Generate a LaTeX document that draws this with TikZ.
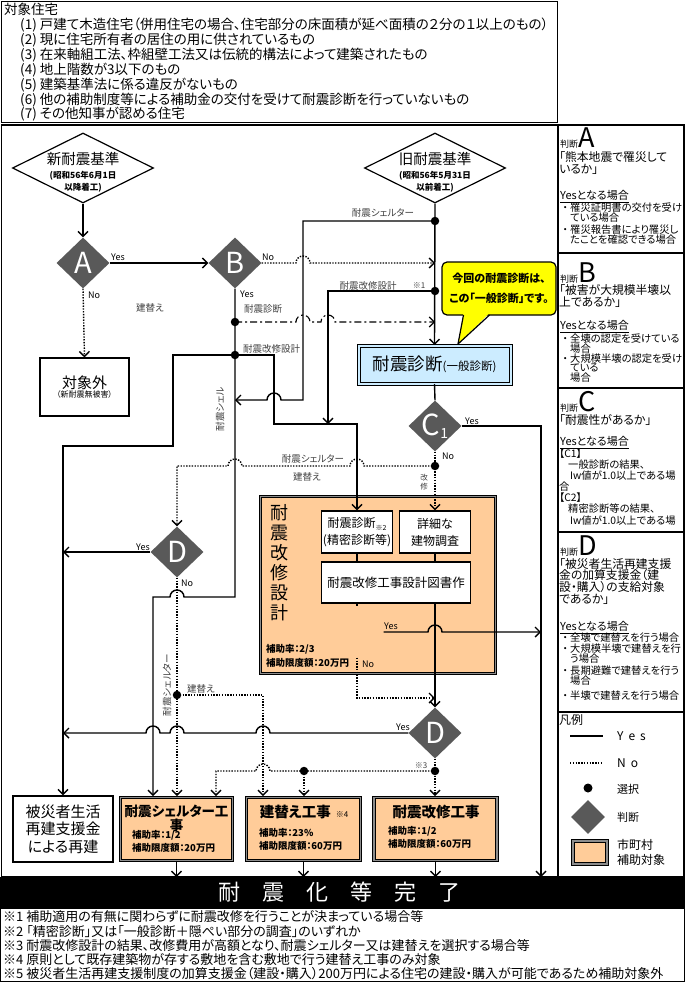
\documentclass[tikz,border=0pt]{standalone}
\usepackage{fontspec}
\setmainfont{Noto Sans CJK JP}[RawFeature=+palt]
\usetikzlibrary{arrows.meta,shapes.geometric}
\newcommand\fsz[2]{\fontsize{#1}{#2}\selectfont}
\newcommand\bulx{\makebox[10pt][c]{・}}
\newcommand\indx{\hspace*{10pt}}
\definecolor{dgray}{HTML}{595959}
\definecolor{peach}{HTML}{FFCC99}
\definecolor{lblue}{HTML}{CCECFF}
\definecolor{lgray}{HTML}{404040}
\definecolor{band}{HTML}{8C8C8C}
\definecolor{cyellow}{HTML}{FFFF00}
\begin{document}
\begin{tikzpicture}[x=1pt,y=-1pt,
  conn/.style={draw=black, line width=1.4pt},
  dots/.style={draw=black, line width=1.4pt, dash pattern=on 1.4pt off 1.4pt},
  dashdot/.style={draw=black, line width=1.1pt, dash pattern=on 7pt off 3pt on 2pt off 3pt},
  arr/.style={-{Straight Barb[length=5pt,width=10pt]}},
  jdot/.style={circle, fill=black, inner sep=0pt, minimum size=8.5pt},
  judge/.style={diamond, fill=dgray, inner sep=0pt, minimum width=53pt, minimum height=51pt},
  jtxt/.style={text=white, inner sep=0pt, font=\fsz{29}{29}},
  lbl/.style={text=lgray, inner sep=0pt, font=\fsz{9.5}{9.5}},
  yn/.style={text=black, inner sep=0pt, font=\fsz{9}{9}},
  wbox/.style={draw=black, line width=1.1pt, fill=white, inner sep=0pt},
  obox/.style={draw=black, line width=0.9pt, double=band, double distance=1.8pt, fill=peach, inner sep=0pt},
  std/.style={diamond, draw=black, line width=1.2pt, fill=white, inner sep=0pt, minimum width=141pt, minimum height=70pt},
  rp/.style={anchor=north west, inner sep=0pt, align=left},
  qt/.style={rp, font=\fsz{11.8}{12}},
  yh/.style={rp, font=\fsz{11}{11}},
  bl/.style={rp, font=\fsz{10.3}{10.5}},
  hd/.style={anchor=base west, inner sep=0pt},
  small/.style={anchor=west, inner sep=0pt, font=\fsz{9.5}{9.5}\bfseries}
]
\useasboundingbox (0,0) rectangle (685,982);
\fill[white] (0,0) rectangle (685,982);

% ---------- frames ----------
\draw[line width=1pt] (1.5,1.5) rectangle (557,122);
\draw[line width=1.2pt] (1.5,125) rectangle (558,877);
\draw[line width=1.2pt] (558,125) rectangle (684,877);
\foreach \yy in {253,388,532,712} \draw[line width=1.2pt] (558,\yy) -- (684,\yy);
\node[fill=black, minimum width=685pt, minimum height=31pt, inner sep=0pt, anchor=north west] (bar) at (0,877) {};
\node[text=white, inner sep=0pt, font=\fsz{22}{22}] (bartxt) at (339,892.5) {耐\hspace{22pt}震\hspace{22pt}化\hspace{22pt}等\hspace{22pt}完\hspace{22pt}了};
\draw[line width=1pt] (0.5,908) rectangle (684.5,981.5);

% ---------- top box ----------
\node[anchor=north west, inner sep=0pt, align=left, font=\fsz{13.5}{14.86}] (target) at (4,3.3) {対象住宅\\
\hspace*{16pt}(1) 戸建て木造住宅（併用住宅の場合、住宅部分の床面積が延べ面積の２分の１以上のもの）\\
\hspace*{16pt}(2) 現に住宅所有者の居住の用に供されているもの\\
\hspace*{16pt}(3) 在来軸組工法、枠組壁工法又は伝統的構法によって建築されたもの\\
\hspace*{16pt}(4) 地上階数が3以下のもの\\
\hspace*{16pt}(5) 建築基準法に係る違反がないもの\\
\hspace*{16pt}(6) 他の補助制度等による補助金の交付を受けて耐震診断を行っていないもの\\
\hspace*{16pt}(7) その他知事が認める住宅};

% ---------- footnotes ----------
\node[anchor=north west, inner sep=0pt, align=left, font=\fsz{13}{14.3}] (notes) at (3,910.5) {※1 補助適用の有無に関わらずに耐震改修を行うことが決まっている場合等\\
※2 「精密診断」又は「一般診断＋隠ぺい部分の調査」のいずれか\\
※3 耐震改修設計の結果、改修費用が高額となり、耐震シェルター又は建替えを選択する場合等\\
※4 原則として既存建築物が存する敷地を含む敷地で行う建替え工事のみ対象\\
※5 被災者生活再建支援制度の加算支援金（建設・購入）200万円による住宅の建設・購入が可能であるため補助対象外};

% ---------- main nodes ----------
\node[std] (newstd) at (83,168) {};
\node[inner sep=0pt, font=\fsz{14.5}{14.5}] (newT1) at (83,159) {新耐震基準};
\node[inner sep=0pt, align=center, font=\fsz{8.5}{12}\bfseries] (newT2) at (83,182) {(昭和56年6月1日\\以降着工)};
\node[std] (oldstd) at (435,168) {};
\node[inner sep=0pt, font=\fsz{14.5}{14.5}] (oldT1) at (435,159) {旧耐震基準};
\node[inner sep=0pt, align=center, font=\fsz{8.5}{12}\bfseries] (oldT2) at (435,182) {(昭和56年5月31日\\以前着工)};

\node[judge] (A) at (83,263) {};   \node[jtxt] (At) at (A.center) {A};
\node[judge] (B) at (235,263) {};  \node[jtxt] (Bt) at (B.center) {B};
\node[judge] (C1) at (435,426) {}; \node[jtxt] (C1t) at (C1.center) {C\raisebox{-3pt}{\fsz{14}{14}1}};
\node[judge] (C2) at (357,632) {}; \node[jtxt] (C2t) at (C2.center) {C\raisebox{-3pt}{\fsz{14}{14}2}};
\node[judge] (Dl) at (177,552) {}; \node[jtxt] (Dlt) at (Dl.center) {D};
\node[judge] (Dr) at (435,733) {}; \node[jtxt] (Drt) at (Dr.center) {D};

\node[wbox, minimum width=89pt, minimum height=58pt, align=center] (gai) at (84.5,387) {\fsz{15}{17}対象外\\[-3pt]\fsz{8}{9}（新耐震無被害）};

\node[draw=black, line width=1pt, double=lblue, double distance=2pt, fill=lblue, inner sep=0pt, minimum width=152pt, minimum height=38pt] (ippan) at (434.5,364.5) {{\fsz{17.5}{17.5}耐震診断}{\fsz{11.5}{11.5}(一般診断)}};

\node[draw=black, line width=1.2pt, fill=cyellow, rounded corners=5pt, minimum width=114pt, minimum height=53pt, inner sep=0pt, align=center, font=\fsz{11}{20}\bfseries] (callout) at (499,288.5) {今回の耐震診断は、\\この「一般診断」です。};
\coordinate (ctip) at (458,344);
\fill[cyellow] (463.5,313) -- (ctip) -- (489.5,313) -- cycle;
\draw[line width=1.2pt, line join=round] (463.5,315) -- (ctip) -- (489.5,315);

\node[obox, minimum width=235pt, minimum height=177pt] (sekkei) at (378,585) {};
\node[inner sep=0pt, align=center, font=\fsz{18}{20}] (sekkeiT) at (279,563) {耐\\震\\改\\修\\設\\計};
\node[small] (sekkeiR) at (266,649) {補助率：2/3};
\node[small] (sekkeiL) at (266,663) {補助限度額：20万円};
\node[wbox, minimum width=71pt, minimum height=42pt, align=center, font=\fsz{12}{17}] (seimitsu) at (357,532) {耐震診断\raisebox{-3pt}{\fsz{7}{7}※2}\\(精密診断等)};
\node[wbox, minimum width=71pt, minimum height=42pt, align=center, font=\fsz{12}{17}] (shosai) at (435,532) {詳細な\\建物調査};
\node[wbox, minimum width=149pt, minimum height=41pt, font=\fsz{12.5}{12.5}] (zusho) at (396,582.5) {耐震改修工事設計図書作};

\node[wbox, minimum width=100pt, minimum height=66pt, align=center, font=\fsz{15}{17.5}] (hisai) at (63,829) {被災者生活\\再建支援金\\による再建};
\node[obox, minimum width=112pt, minimum height=63pt] (shelter) at (176.5,829) {};
\node[anchor=north, inner sep=0pt, align=center, font=\fsz{13.5}{11.5}\bfseries] (shelterT) at (176.5,805) {耐震シェルター工\\事};
\node[small] (shelterR) at (132,835.5) {補助率：1/2};
\node[small] (shelterL) at (132,848) {補助限度額：20万円};
\node[obox, minimum width=114pt, minimum height=63pt] (tatekae) at (303.5,829) {};
\node[inner sep=0pt, font=\fsz{14.5}{14.5}\bfseries] (tatekaeT) at (304,812) {建替え工事\hspace{5pt}{\fsz{8}{8}\mdseries ※4}};
\node[small] (tatekaeR) at (259,833) {補助率：23\%};
\node[small] (tatekaeL) at (259,846) {補助限度額：60万円};
\node[obox, minimum width=123pt, minimum height=63pt] (kaishu) at (435.5,829) {};
\node[inner sep=0pt, font=\fsz{14.5}{14.5}\bfseries] (kaishuT) at (436,812) {耐震改修工事};
\node[small] (kaishuR) at (388,831) {補助率：1/2};
\node[small] (kaishuL) at (388,844) {補助限度額：60万円};

% ---------- junction coordinates ----------
\coordinate (nb) at (435,263);
\coordinate (nd) at (435,322);
\coordinate (bsh) at (235,400);
\coordinate (j1) at (328,424);
\coordinate (lyes) at (63,552);
\coordinate (ryes) at (63,733);
\coordinate (dr1) at (435,698);
\coordinate (rc2) at (541,632);
\coordinate (rbar) at (541,877);
\coordinate (sh1) at (153,796);
\coordinate (sh2) at (177,796);
\coordinate (sh3) at (216,796);
\coordinate (tk1) at (263,796);
\coordinate (tk2) at (304,796);
\coordinate (ks1) at (435,796);

% ---------- connectors ----------
\draw[conn,arr] (newstd.south) -- (A.north);
\draw[conn,arr] (A.east) -- (B.west);
\draw[dots,arr] (A.south) -- (gai.north);
\draw[conn,arr] (oldstd.south) -- (ippan.north);
% shelter from old standard
\draw[conn,arr] (435,221) -- (303,221) -- (303,400) -- (281,400) arc[start angle=0,end angle=180,radius=7pt] -- (bsh);
% B No
\draw[dots,arr] (B.east) -- (296,263) arc[start angle=180,end angle=0,radius=7pt] -- (nb);
% *1 design
\draw[conn,arr] (435,291) -- (328,291) -- (j1);
% diagnosis dash-dot
\draw[dashdot,arr] (235,322) -- (296,322) arc[start angle=180,end angle=0,radius=7pt] -- (321,322) arc[start angle=180,end angle=0,radius=7pt] -- (nd);
% B vertical to shelter work
\draw[conn,arr] (B.south) -- (235,597) -- (184,597) arc[start angle=0,end angle=180,radius=7pt] -- (153,597) -- (sh1);
% design from B
\draw[conn,arr] (235,355) -- (274,355) -- (274,424) -- (357,424) -- (seimitsu.north);
% rebuild from B
\draw[conn,arr] (235,355) -- (173,355) -- (173,446) -- (63,446) -- (hisai.north);
% ippan -> C1
\draw[conn] (ippan.south) -- (C1.north);
% C1 Yes
\draw[conn,arr] (C1.east) -- (541,426) -- (rbar);
% C1 No
\draw[dots,arr] (C1.south) -- (shosai.north);
\draw[dots,arr] (435,466) -- (364,466) arc[start angle=0,end angle=180,radius=7pt] -- (242,466) arc[start angle=0,end angle=180,radius=7pt] -- (177,466) -- (Dl.north);
% Dl
\draw[conn,arr] (Dl.west) -- (lyes);
\draw[dots,arr] (Dl.south) -- (sh2);
\draw[dots,arr] (177,695) -- (263,695) -- (tk1);
% inside design box
\draw[conn] (seimitsu.south) -- (seimitsu.south |- zusho.north);
\draw[conn] (shosai.south) -- (shosai.south |- zusho.north);
\draw[conn] (zusho.south -| C2.north) -- (C2.north);
\draw[conn,arr] (zusho.south -| Dr.north) -- (Dr.north);
% C2
\draw[conn,arr] (C2.east) -- (428,632) arc[start angle=180,end angle=0,radius=7pt] -- (rc2);
\draw[dots,arr] (C2.south) -- (357,698) -- (dr1);
% Dr
\draw[conn,arr] (Dr.west) -- (270,733) arc[start angle=0,end angle=180,radius=7pt] -- (184,733) arc[start angle=0,end angle=180,radius=7pt] -- (160,733) arc[start angle=0,end angle=180,radius=7pt] -- (ryes);
\draw[dots,arr] (Dr.south) -- (ks1);
\draw[dots,arr] (435,771) -- (270,771) arc[start angle=0,end angle=180,radius=7pt] -- (216,771) -- (sh3);
\draw[dots,arr] (304,771) -- (tk2);
% to completion
\draw[conn,arr] (shelter.south) -- (shelter.south |- bar.north);
\draw[conn,arr] (tatekae.south) -- (tatekae.south |- bar.north);
\draw[conn,arr] (kaishu.south) -- (kaishu.south |- bar.north);

% ---------- junction dots ----------
\node[jdot] (d1) at (435,221) {};
\node[jdot] (d2) at (435,291) {};
\node[jdot] (d3) at (235,322) {};
\node[jdot] (d4) at (235,355) {};
\node[jdot] (d5) at (435,466) {};
\node[jdot] (d6) at (177,695) {};
\node[jdot] (d7) at (435,771) {};
\node[jdot] (d8) at (304,771) {};

% ---------- connector labels ----------
\node[yn, anchor=west] (lAy) at (111,257) {Yes};
\node[yn, anchor=west] (lAn) at (88,295) {No};
\node[lbl] (lreb1) at (150,308) {建替え};
\node[yn, anchor=west] (lBn) at (262,257) {No};
\node[yn, anchor=west] (lBy) at (240,294) {Yes};
\node[lbl] (lsh0) at (383,213) {耐震シェルター};
\node[lbl] (ldes1) at (368,286) {耐震改修設計};
\node[lbl, font=\fsz{8}{8}] (lk1) at (419,286) {※1};
\node[lbl] (ldiag) at (263,309) {耐震診断};
\node[lbl, anchor=west] (ldes2) at (243,349) {耐震改修設計};
\node[lbl, rotate=90] (lsh1) at (220,409) {耐震シェル};
\node[lbl] (lsh2) at (313,459) {耐震シェルター};
\node[lbl] (lreb2) at (307,477) {建替え};
\node[yn, anchor=west] (lC1y) at (465,421) {Yes};
\node[yn, anchor=west] (lC1n) at (442,456) {No};
\node[lbl, align=center, font=\fsz{7.5}{8.5}] (lkai) at (424,482) {改\\修};
\node[yn, anchor=east] (lDly) at (150,547) {Yes};
\node[yn, anchor=west] (lDln) at (181,583) {No};
\node[lbl, rotate=90] (lsh3) at (167,685) {耐震シェルター};
\node[lbl, anchor=west] (lreb3) at (187,689) {建替え};
\node[yn, anchor=west] (lC2y) at (384,626) {Yes};
\node[yn, anchor=west] (lC2n) at (362,664) {No};
\node[yn, anchor=east] (lDry) at (410,727) {Yes};
\node[lbl, font=\fsz{8}{8}] (lk3) at (421,766) {※3};

% ---------- right panel ----------
\node[hd] (hA) at (560,147) {\fsz{9}{9}判断\fsz{27}{27}A};
\node[qt] (qA) at (559,151.5) {「熊本地震で罹災して\\いるか」};
\node[yh] (yA) at (560,190.5) {\underline{Yesとなる場合}};
\node[bl] (bA) at (560,202.5) {\bulx 罹災証明書の交付を受け\\\indx ている場合\\[1pt]\bulx 罹災報告書により罹災し\\\indx たことを確認できる場合};

\node[hd] (hB) at (560,282) {\fsz{9}{9}判断\fsz{27}{27}B};
\node[qt] (qB) at (559,284) {「被害が大規模半壊以\\上であるか」};
\node[yh] (yB) at (560,320.5) {\underline{Yesとなる場合}};
\node[bl, font=\fsz{10.3}{9.6}] (bB) at (560,334) {\bulx 全壊の認定を受けている\\\indx 場合\\\bulx 大規模半壊の認定を受け\\\indx ている\\\indx 場合};

\node[hd] (hC) at (560,411) {\fsz{9}{9}判断\fsz{27}{27}C};
\node[qt] (qC) at (559,414) {「耐震性があるか」};
\node[yh] (yC) at (560,436.5) {\underline{Yesとなる場合}};
\node[bl, font=\fsz{10.3}{11.1}] (bC) at (559,448.5) {【C1】\\\hspace*{9pt}一般診断の結果、\\\hspace*{11pt}Iw値が1.0以上である場\\合\\【C2】\\\hspace*{9pt}精密診断等の結果、\\\hspace*{11pt}Iw値が1.0以上である場};

\node[hd] (hD) at (560,555) {\fsz{9}{9}判断\fsz{27}{27}D};
\node[qt, font=\fsz{11.8}{11.7}] (qD) at (559,558) {「被災者生活再建支援\\金の加算支援金（建\\設・購入）の支給対象\\であるか」};
\node[yh] (yD) at (560,621.5) {\underline{Yesとなる場合}};
\node[bl, font=\fsz{10.3}{10}] (bD) at (560,633) {\bulx 全壊で建替えを行う場合\\[1pt]\bulx 大規模半壊で建替えを行\\\indx う場合\\[2pt]\bulx 長期避難で建替えを行う\\\indx 場合\\[5pt]\bulx 半壊で建替えを行う場合};

% legend
\node[anchor=west, inner sep=0pt, font=\fsz{12}{12}] (lgT) at (559,720) {凡例};
\draw[conn] (570,736) -- (603,736);
\node[anchor=west, inner sep=0pt, font=\fsz{12}{12}] (lgY) at (617,736) {Y\hspace{5pt}e\hspace{5pt}s};
\draw[dots] (570,763) -- (602,763);
\node[anchor=west, inner sep=0pt, font=\fsz{12}{12}] (lgN) at (617,763) {N\hspace{5pt}o};
\node[jdot, minimum size=9pt] (lgdot) at (588,788) {};
\node[anchor=west, inner sep=0pt, font=\fsz{11}{11}] (lgS) at (617,789) {選択};
\node[diamond, fill=dgray, inner sep=0pt, minimum width=34pt, minimum height=34pt] (lgd) at (588,817) {};
\node[anchor=west, inner sep=0pt, font=\fsz{11}{11}] (lgJ) at (617,817) {判断};
\node[obox, minimum width=34pt, minimum height=23pt] (lgo) at (590,852.5) {};
\node[anchor=west, inner sep=0pt, align=left, font=\fsz{12}{14.5}] (lgO) at (617,852.5) {市町村\\補助対象};
\end{tikzpicture}
\end{document}
